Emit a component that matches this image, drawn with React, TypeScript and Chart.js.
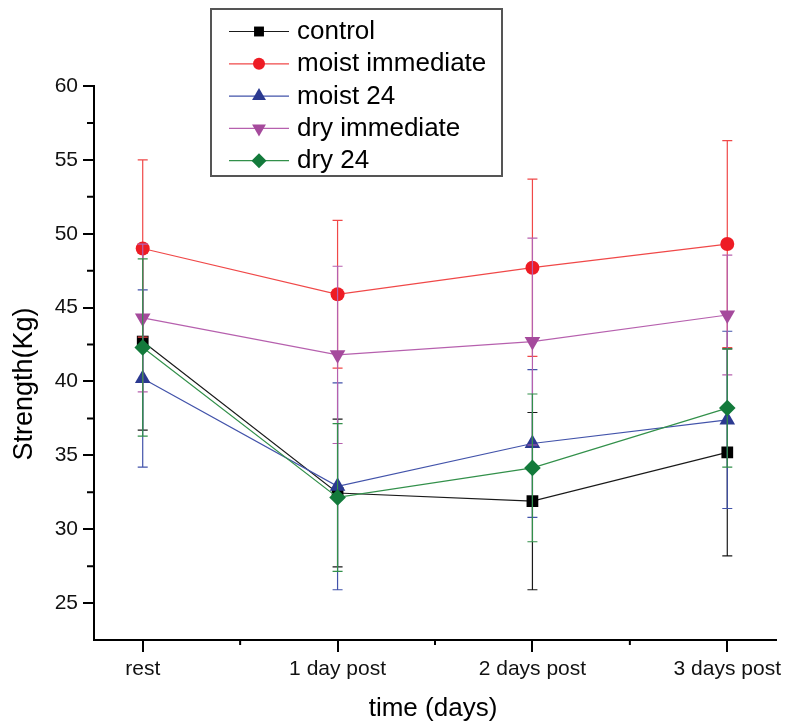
import React, { useEffect, useRef } from 'react';
import { Chart, registerables } from 'chart.js';
import { drawPoint } from 'chart.js/helpers';

Chart.register(...registerables);

// ---------- data ----------
const categories = ['rest', '1 day post', '2 days post', '3 days post'];
const seriesNames = ['control', 'moist immediate', 'moist 24', 'dry immediate', 'dry 24'];

const controlMean = [42.7, 32.45, 31.9, 35.2];
const controlSD = [6.0, 5.0, 6.0, 7.0];
const moistImmMean = [49.0, 45.9, 47.7, 49.3];
const moistImmSD = [6.0, 5.0, 6.0, 7.0];
const moist24Mean = [40.2, 32.9, 35.8, 37.4];
const moist24SD = [6.0, 7.0, 5.0, 6.0];
const dryImmMean = [44.3, 41.8, 42.7, 44.5];
const dryImmSD = [5.0, 6.0, 7.0, 4.05];
const dry24Mean = [42.3, 32.15, 34.15, 38.2];
const dry24SD = [6.0, 5.0, 5.0, 4.0];

const yTicks = [25, 30, 35, 40, 45, 50, 55, 60];
const yMinorTicks = [27.5, 32.5, 37.5, 42.5, 47.5, 52.5, 57.5];
const xMinorTicks = [0.5, 1.5, 2.5];

const yTitle = 'Strength(Kg)';
const xTitle = 'time (days)';

// ---------- styles ----------
const FONT = '"Liberation Sans", Arial, sans-serif';
const MARKER_COLORS = ['#000000', '#EE1C24', '#2B3990', '#A54A9C', '#137A3B'];
const LINE_COLORS = ['#1a1a1a', '#F04848', '#4253AA', '#B660AE', '#32904A'];
const POINT_STYLES = ['rect', 'circle', 'triangle', 'triangle', 'rectRot'];
const POINT_ROT = [0, 0, 0, 180, 0];
const POINT_RADIUS = [8.3, 7, 9, 9, 8.3];

const means = [controlMean, moistImmMean, moist24Mean, dryImmMean, dry24Mean];
const sds = [controlSD, moistImmSD, moist24SD, dryImmSD, dry24SD];

const errorBarPlugin = {
  id: 'errorBars',
  beforeDatasetDraw(chart: any, args: any) {
    const i = args.index;
    const xs = chart.scales.x;
    const ys = chart.scales.y;
    const ctx = chart.ctx;
    ctx.save();
    ctx.strokeStyle = LINE_COLORS[i];
    ctx.lineWidth = 1.2;
    means[i].forEach((m: number, j: number) => {
      const px = xs.getPixelForValue(j);
      const top = ys.getPixelForValue(m + sds[i][j]);
      const bot = ys.getPixelForValue(m - sds[i][j]);
      ctx.beginPath();
      ctx.moveTo(px, top);
      ctx.lineTo(px, bot);
      ctx.moveTo(px - 5, top);
      ctx.lineTo(px + 5, top);
      ctx.moveTo(px - 5, bot);
      ctx.lineTo(px + 5, bot);
      ctx.stroke();
    });
    ctx.restore();
  },
};

const decorPlugin = {
  id: 'decor',
  afterDraw(chart: any) {
    const ctx = chart.ctx;
    const area = chart.chartArea;
    const xs = chart.scales.x;
    const ys = chart.scales.y;
    ctx.save();
    // minor ticks
    ctx.strokeStyle = '#000';
    ctx.lineWidth = 2;
    ctx.beginPath();
    yMinorTicks.forEach((v) => {
      const py = ys.getPixelForValue(v);
      ctx.moveTo(area.left - 7, py);
      ctx.lineTo(area.left, py);
    });
    xMinorTicks.forEach((v) => {
      const px = xs.getPixelForValue(v);
      ctx.moveTo(px, area.bottom);
      ctx.lineTo(px, area.bottom + 5);
    });
    ctx.stroke();

    // axis titles
    ctx.fillStyle = '#000';
    ctx.textAlign = 'center';
    ctx.textBaseline = 'middle';
    ctx.font = `26px ${FONT}`;
    ctx.fillText(xTitle, (area.left + area.right) / 2 - 2, 709);
    ctx.save();
    ctx.translate(25, 384);
    ctx.rotate(-Math.PI / 2);
    ctx.font = `27px ${FONT}`;
    ctx.fillText(yTitle, 0, 0);
    ctx.restore();

    // legend
    const bx = 211, by = 9, bw = 291, bh = 167;
    ctx.fillStyle = '#fff';
    ctx.fillRect(bx, by, bw, bh);
    ctx.strokeStyle = '#555';
    ctx.lineWidth = 2;
    ctx.strokeRect(bx, by, bw, bh);
    const legendR = [7, 6, 8, 8, 7.5];
    seriesNames.forEach((name, i) => {
      const ry = 31.5 + 32.3 * i;
      ctx.strokeStyle = LINE_COLORS[i];
      ctx.lineWidth = 1.2;
      ctx.beginPath();
      ctx.moveTo(229, ry);
      ctx.lineTo(289, ry);
      ctx.stroke();
      ctx.fillStyle = MARKER_COLORS[i];
      ctx.strokeStyle = MARKER_COLORS[i];
      drawPoint(ctx, { pointStyle: POINT_STYLES[i], rotation: POINT_ROT[i], radius: legendR[i], borderWidth: 0 } as any, 259, ry);
      ctx.fillStyle = '#000';
      ctx.font = `26px ${FONT}`;
      ctx.textAlign = 'left';
      ctx.textBaseline = 'alphabetic';
      ctx.fillText(name, 297, ry + 7.5);
    });
    ctx.restore();
  },
};

export default function App() {
  const ref = useRef<HTMLCanvasElement | null>(null);

  useEffect(() => {
    document.body.style.margin = '0';
    const canvas = ref.current;
    if (!canvas) return;
    const datasets = seriesNames.map((name, i) => ({
      label: name,
      data: means[i].map((v, j) => ({ x: j, y: v })),
      borderColor: LINE_COLORS[i],
      borderWidth: 1.2,
      backgroundColor: MARKER_COLORS[i],
      pointBackgroundColor: MARKER_COLORS[i],
      pointBorderColor: MARKER_COLORS[i],
      pointBorderWidth: 0,
      pointStyle: POINT_STYLES[i],
      pointRotation: POINT_ROT[i],
      pointRadius: POINT_RADIUS[i],
      fill: false,
      tension: 0,
      order: 5 - i,
    }));
    const chart = new Chart(canvas, {
      type: 'line',
      data: { datasets },
      options: {
        responsive: false,
        animation: false,
        devicePixelRatio: 1,
        layout: { padding: { top: 86, right: 9, bottom: 0, left: 0 } },
        plugins: {
          legend: { display: false },
          tooltip: { enabled: false },
          title: { display: false },
        },
        scales: {
          x: {
            type: 'linear',
            min: -0.25,
            max: 3.25,
            afterBuildTicks: (s: any) => {
              s.ticks = categories.map((_, i) => ({ value: i }));
            },
            afterFit: (s: any) => {
              s.height = 86;
              s.paddingLeft = 0;
              s.paddingRight = 0;
            },
            grid: { drawOnChartArea: false, drawTicks: true, tickLength: 12, color: '#000', lineWidth: 2 },
            border: { display: true, color: '#000', width: 2 },
            ticks: {
              callback: (v: any) => categories[v] ?? '',
              font: { family: FONT, size: 21 },
              color: '#111',
              padding: 5,
              maxRotation: 0,
              autoSkip: false,
            },
          },
          y: {
            type: 'linear',
            min: 22.5,
            max: 60,
            afterBuildTicks: (s: any) => {
              s.ticks = yTicks.map((v) => ({ value: v }));
            },
            afterFit: (s: any) => {
              s.width = 94;
            },
            grid: { drawOnChartArea: false, drawTicks: true, tickLength: 11, color: '#000', lineWidth: 2 },
            border: { display: true, color: '#000', width: 2 },
            ticks: {
              callback: (v: any) => String(v),
              font: { family: FONT, size: 21 },
              color: '#111',
              padding: 5,
            },
          },
        },
      },
      plugins: [errorBarPlugin, decorPlugin],
    } as any);
    return () => chart.destroy();
  }, []);

  return (
    <div style={{ width: 785, height: 726 }}>
      <canvas ref={ref} width={785} height={726} style={{ display: 'block' }} />
    </div>
  );
}
